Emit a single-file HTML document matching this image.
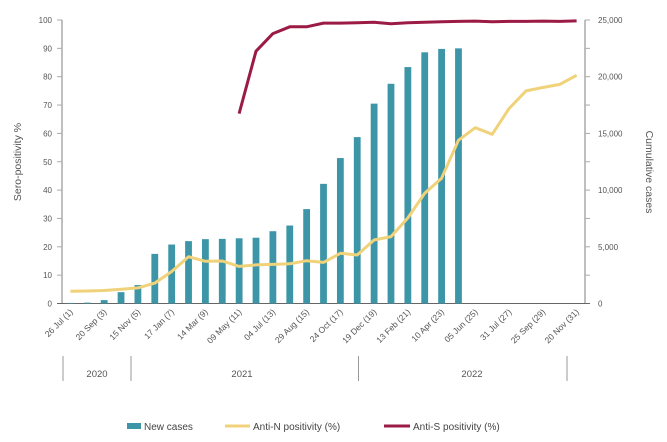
<!DOCTYPE html>
<html><head><meta charset="utf-8"><style>
body{margin:0;background:#fff}
svg{display:block;font-family:"Liberation Sans",sans-serif}
</style></head><body>
<svg id="chart" width="667" height="442" viewBox="0 0 667 442" xmlns="http://www.w3.org/2000/svg">
<g id="axes"></g>
<g id="marks"></g>
<text transform="translate(21,162) rotate(-90)" text-anchor="middle" font-size="10.5" fill="#555">Sero-positivity %</text>
<text transform="translate(646,172) rotate(90)" text-anchor="middle" font-size="10.5" fill="#555">Cumulative cases</text>
<g stroke="#999" stroke-width="1">
<line x1="63" y1="356" x2="63" y2="381"/><line x1="131" y1="356" x2="131" y2="381"/>
<line x1="358.5" y1="356" x2="358.5" y2="381"/><line x1="567" y1="356" x2="567" y2="381"/>
</g>
<text x="97" y="377" text-anchor="middle" font-size="9.5" fill="#555">2020</text>
<text x="242" y="377" text-anchor="middle" font-size="9.5" fill="#555">2021</text>
<text x="472" y="377" text-anchor="middle" font-size="9.5" fill="#555">2022</text>
<g font-size="10" fill="#444">
<rect x="127" y="423" width="14" height="6" fill="#3d96a7"/>
<text x="144" y="430">New cases</text>
<line x1="225" y1="426" x2="250" y2="426" stroke="#f0d27a" stroke-width="3"/>
<text x="253" y="430">Anti-N positivity (%)</text>
<line x1="384" y1="426" x2="410" y2="426" stroke="#9b1b45" stroke-width="3"/>
<text x="413" y="430">Anti-S positivity (%)</text>
</g>
</svg>
<script>
const categories=["26 Jul (1)","2","20 Sep (3)","4","15 Nov (5)","6","17 Jan (7)","8","14 Mar (9)","10","09 May (11)","12","04 Jul (13)","14","29 Aug (15)","16","24 Oct (17)","18","19 Dec (19)","20","13 Feb (21)","22","10 Apr (23)","24","05 Jun (25)","26","31 Jul (27)","28","25 Sep (29)","30","20 Nov (31)"];
const cumulativeCases=[50,75,300,1000,1625,4375,5200,5500,5675,5700,5750,5800,6375,6875,8325,10550,12825,14675,17625,19375,20850,22150,22450,22500];
const antiN=[4.3,4.4,4.6,5,5.5,7.2,11.3,16.5,14.9,15,13.1,13.6,13.8,14,15.1,14.5,17.7,17.1,22.4,23.6,30.2,38.9,44.2,57.6,62,59.7,68.8,75,76.2,77.3,80.5];
const antiS=[null,null,null,null,null,null,null,null,null,null,67,89,95.2,97.6,97.6,98.9,98.9,99,99.2,98.7,99,99.2,99.4,99.5,99.6,99.4,99.5,99.5,99.6,99.5,99.7];
const leftTicks=[0,10,20,30,40,50,60,70,80,90,100];
const rightTicks=[0,2500,5000,7500,10000,12500,15000,17500,20000,22500,25000];
const rightLabels=["0","","5,000","","10,000","","15,000","","20,000","","25,000"];

const NS="http://www.w3.org/2000/svg";
const X0=62,X1=585,Y0=303.5,Y1=20;
const bw=(X1-X0)/categories.length;
const x=i=>X0+bw*(i+0.5);
const yL=v=>Y0-(v/100)*(Y0-Y1);
const yR=v=>Y0-(v/25000)*(Y0-Y1);
function mk(tag,attrs,parent){const e=document.createElementNS(NS,tag);for(const k in attrs)e.setAttribute(k,attrs[k]);parent.appendChild(e);return e;}
const axes=document.getElementById('axes'),marks=document.getElementById('marks');

let e=mk('line',{x1:X0,y1:Y1,x2:X0,y2:Y0,stroke:'#aaa','stroke-width':1.5},axes);


e=mk('line',{x1:X1,y1:Y1,x2:X1,y2:Y0,stroke:'#aaa','stroke-width':1.5},axes);


leftTicks.forEach(v=>{
 mk('line',{x1:X0-5,x2:X0,y1:yL(v),y2:yL(v),stroke:'#aaa'},axes);
 const t=mk('text',{x:X0-10,y:yL(v)+3,'text-anchor':'end','font-size':8,fill:'#555'},axes);
 t.textContent=v;
 
 
});
rightTicks.forEach((v,i)=>{
 mk('line',{x1:X1,x2:X1+5,y1:yR(v),y2:yR(v),stroke:'#aaa'},axes);
 const t=mk('text',{x:X1+13,y:yR(v)+3,'font-size':8,fill:'#555'},axes);
 t.textContent=rightLabels[i];
 
 
});
cumulativeCases.forEach((v,i)=>{
 const r=mk('rect',{x:x(i)-3.4,y:yR(v),width:6.8,height:Y0-yR(v),fill:'#3d96a7'},marks);
 
 
});
e=mk('line',{x1:X0-5,x2:X1+5,y1:Y0,y2:Y0,stroke:'#666','stroke-width':1},axes);


categories.forEach((c,i)=>{
 if(i%2)return;
 const t=mk('text',{transform:`translate(${x(i)+3},${Y0+9}) rotate(-45)`,'text-anchor':'end','font-size':8.5,fill:'#555'},axes);
 t.textContent=c;
 
 
});
function line(data,color,name){
 let d='';data.forEach((v,i)=>{if(v==null)return;d+=(d?'L':'M')+x(i).toFixed(1)+','+yL(v).toFixed(1);});
 const p=mk('path',{d:d,fill:'none',stroke:color,'stroke-width':3,'stroke-linejoin':'round'},marks);
 
 
}
line(antiN,'#f0d27a','line-anti-n');
line(antiS,'#9b1b45','line-anti-s');
</script>
</body></html>
